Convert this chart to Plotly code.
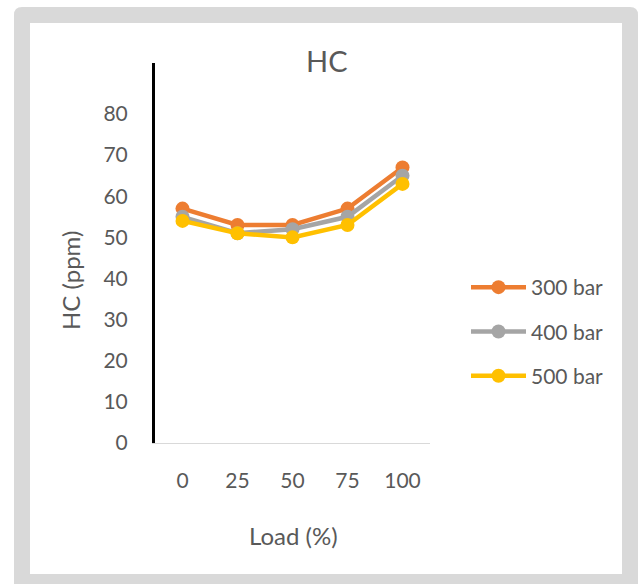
import plotly.graph_objects as go

loads = ["0", "25", "50", "75", "100"]
hc_300 = [57, 53, 53, 57, 67]
hc_400 = [55, 51, 52, 55, 65]
hc_500 = [54, 51, 50, 53, 63]
series_names = ["300 bar", "400 bar", "500 bar"]
series_colors = ["#ED7D31", "#A5A5A5", "#FFC000"]
y_ticks = [0, 10, 20, 30, 40, 50, 60, 70, 80]

FONT = "Lato"
TXT = "#595959"

W, H = 640, 584
L, R, T, B = 155, 430, 63, 443  # plot area in px


def px2x(px):
    return (px - L) / (R - L)


def py2y(py):
    return (B - py) / (B - T)


fig = go.Figure()
for name, vals, col in zip(series_names, [hc_300, hc_400, hc_500], series_colors):
    fig.add_trace(go.Scatter(
        x=loads, y=vals, name=name, mode="lines+markers",
        line=dict(color=col, width=4.5),
        marker=dict(color=col, size=14, symbol="circle"),
        legendgroup=name, hoverinfo="skip",
    ))

# background frame: grey rounded border with white inner panel
x0, x1 = px2x(14), px2x(638)
y0, y1 = py2y(590), py2y(7)
rx, ry = 8 / (R - L), 8 / (B - T)
path = (f"M{x0},{y0} L{x0},{y1 - ry} Q{x0},{y1} {x0 + rx},{y1} "
        f"L{x1 - rx},{y1} Q{x1},{y1} {x1},{y1 - ry} L{x1},{y0} Z")
shapes = [
    dict(type="path", xref="paper", yref="paper", path=path,
         fillcolor="#D9D9D9", line=dict(width=0), layer="below"),
    dict(type="rect", xref="paper", yref="paper",
         x0=px2x(30), x1=px2x(622), y0=py2y(574), y1=py2y(23),
         fillcolor="white", line=dict(width=0), layer="below"),
]

annotations = [
    dict(text="HC", xref="paper", yref="paper", x=px2x(327), y=py2y(60),
         showarrow=False, font=dict(family=FONT, size=29, color=TXT),
         xanchor="center", yanchor="middle"),
    dict(text="HC (ppm)", xref="paper", yref="paper", x=px2x(70), y=py2y(281),
         showarrow=False, textangle=-90, font=dict(family=FONT, size=24, color=TXT),
         xanchor="center", yanchor="middle"),
    dict(text="Load (%)", xref="paper", yref="paper", x=px2x(293), y=py2y(535),
         showarrow=False, font=dict(family=FONT, size=24, color=TXT),
         xanchor="center", yanchor="middle"),
]

fig.update_layout(
    width=W, height=H,
    margin=dict(l=L, r=W - R, t=T, b=H - B, autoexpand=False),
    paper_bgcolor="white", plot_bgcolor="rgba(0,0,0,0)",
    font=dict(family=FONT, size=21, color=TXT),
    shapes=shapes, annotations=annotations,
    showlegend=True,
    legend=dict(x=px2x(466), y=py2y(267), xanchor="left", yanchor="top",
                bgcolor="rgba(0,0,0,0)", itemwidth=55, tracegroupgap=14,
                font=dict(family=FONT, size=21, color=TXT)),
    xaxis=dict(type="category", range=[-0.5, 4.5], showgrid=False,
               showline=True, linecolor="#D9D9D9", linewidth=1,
               ticks="", ticklabelstandoff=19, zeroline=False,
               tickfont=dict(family=FONT, size=21, color=TXT), fixedrange=True),
    yaxis=dict(range=[0, 92.4], tickvals=y_ticks, showgrid=False,
               showline=True, linecolor="black", linewidth=3,
               ticks="", ticklabelstandoff=20, zeroline=False,
               tickfont=dict(family=FONT, size=21, color=TXT), fixedrange=True),
)

fig.write_html("out.html", config={"displayModeBar": False})
